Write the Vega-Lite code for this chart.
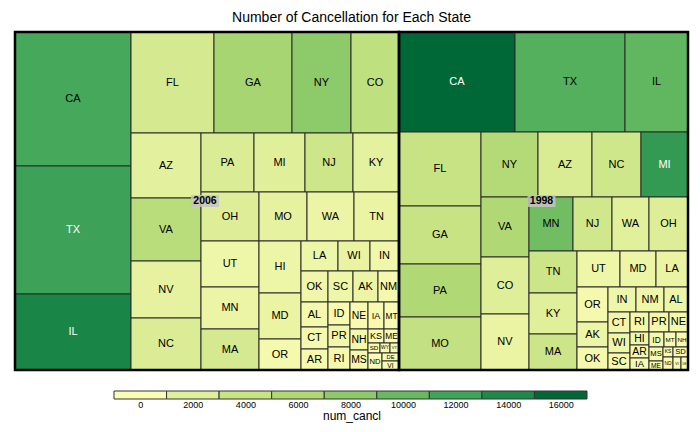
{
  "$schema": "https://vega.github.io/schema/vega-lite/v6.json",
  "padding": {"left": 13, "top": 10, "right": 10, "bottom": 5},
  "config": {"view": {"stroke": null}, "font": "Liberation Sans"},
  "title": {"text": "Number of Cancellation for Each State", "fontSize": 14, "fontWeight": "normal", "font": "Liberation Sans", "anchor": "middle", "offset": 6, "color": "black"},
  "datasets": {
    "cells": [
      {"year": "2006", "state": "CA", "num_cancl": 11700, "x0": 0, "x1": 116, "y0": 0, "y1": 134},
      {"year": "2006", "state": "TX", "num_cancl": 12200, "x0": 0, "x1": 116, "y0": 134, "y1": 262},
      {"year": "2006", "state": "IL", "num_cancl": 14300, "x0": 0, "x1": 116, "y0": 262, "y1": 338},
      {"year": "2006", "state": "FL", "num_cancl": 3000, "x0": 116, "x1": 199, "y0": 0, "y1": 101},
      {"year": "2006", "state": "GA", "num_cancl": 6500, "x0": 199, "x1": 277, "y0": 0, "y1": 101},
      {"year": "2006", "state": "NY", "num_cancl": 8000, "x0": 277, "x1": 336, "y0": 0, "y1": 101},
      {"year": "2006", "state": "CO", "num_cancl": 4800, "x0": 336, "x1": 384, "y0": 0, "y1": 101},
      {"year": "2006", "state": "AZ", "num_cancl": 1800, "x0": 116, "x1": 186, "y0": 101, "y1": 166},
      {"year": "2006", "state": "VA", "num_cancl": 5300, "x0": 116, "x1": 186, "y0": 166, "y1": 229},
      {"year": "2006", "state": "NV", "num_cancl": 1600, "x0": 116, "x1": 186, "y0": 229, "y1": 286},
      {"year": "2006", "state": "NC", "num_cancl": 2500, "x0": 116, "x1": 186, "y0": 286, "y1": 338},
      {"year": "2006", "state": "PA", "num_cancl": 2500, "x0": 186, "x1": 239, "y0": 101, "y1": 160},
      {"year": "2006", "state": "MI", "num_cancl": 2000, "x0": 239, "x1": 290, "y0": 101, "y1": 160},
      {"year": "2006", "state": "NJ", "num_cancl": 3600, "x0": 290, "x1": 338, "y0": 101, "y1": 160},
      {"year": "2006", "state": "KY", "num_cancl": 1700, "x0": 338, "x1": 384, "y0": 101, "y1": 160},
      {"year": "2006", "state": "OH", "num_cancl": 2200, "x0": 186, "x1": 244, "y0": 160, "y1": 209},
      {"year": "2006", "state": "UT", "num_cancl": 1000, "x0": 186, "x1": 244, "y0": 209, "y1": 255},
      {"year": "2006", "state": "MN", "num_cancl": 1200, "x0": 186, "x1": 244, "y0": 255, "y1": 297},
      {"year": "2006", "state": "MA", "num_cancl": 3000, "x0": 186, "x1": 244, "y0": 297, "y1": 338},
      {"year": "2006", "state": "MO", "num_cancl": 1500, "x0": 244, "x1": 292, "y0": 160, "y1": 209},
      {"year": "2006", "state": "WA", "num_cancl": 1200, "x0": 292, "x1": 339, "y0": 160, "y1": 209},
      {"year": "2006", "state": "TN", "num_cancl": 1300, "x0": 339, "x1": 384, "y0": 160, "y1": 209},
      {"year": "2006", "state": "HI", "num_cancl": 1100, "x0": 244, "x1": 286, "y0": 209, "y1": 261},
      {"year": "2006", "state": "MD", "num_cancl": 1300, "x0": 244, "x1": 286, "y0": 261, "y1": 307},
      {"year": "2006", "state": "OR", "num_cancl": 600, "x0": 244, "x1": 286, "y0": 307, "y1": 338},
      {"year": "2006", "state": "LA", "num_cancl": 1000, "x0": 286, "x1": 323, "y0": 209, "y1": 239},
      {"year": "2006", "state": "WI", "num_cancl": 1400, "x0": 323, "x1": 355, "y0": 209, "y1": 239},
      {"year": "2006", "state": "IN", "num_cancl": 800, "x0": 355, "x1": 384, "y0": 209, "y1": 239},
      {"year": "2006", "state": "OK", "num_cancl": 800, "x0": 286, "x1": 313, "y0": 239, "y1": 270},
      {"year": "2006", "state": "SC", "num_cancl": 1000, "x0": 313, "x1": 338, "y0": 239, "y1": 270},
      {"year": "2006", "state": "AK", "num_cancl": 1200, "x0": 338, "x1": 363, "y0": 239, "y1": 270},
      {"year": "2006", "state": "NM", "num_cancl": 500, "x0": 363, "x1": 384, "y0": 239, "y1": 270},
      {"year": "2006", "state": "AL", "num_cancl": 600, "x0": 286, "x1": 313, "y0": 270, "y1": 295},
      {"year": "2006", "state": "CT", "num_cancl": 600, "x0": 286, "x1": 313, "y0": 295, "y1": 317},
      {"year": "2006", "state": "AR", "num_cancl": 400, "x0": 286, "x1": 313, "y0": 317, "y1": 338},
      {"year": "2006", "state": "ID", "num_cancl": 400, "x0": 313, "x1": 335, "y0": 270, "y1": 293},
      {"year": "2006", "state": "PR", "num_cancl": 800, "x0": 313, "x1": 335, "y0": 293, "y1": 315},
      {"year": "2006", "state": "RI", "num_cancl": 500, "x0": 313, "x1": 335, "y0": 315, "y1": 338},
      {"year": "2006", "state": "NE", "num_cancl": 400, "x0": 335, "x1": 353, "y0": 270, "y1": 297},
      {"year": "2006", "state": "IA", "num_cancl": 400, "x0": 353, "x1": 369, "y0": 270, "y1": 297},
      {"year": "2006", "state": "MT", "num_cancl": 300, "x0": 369, "x1": 384, "y0": 270, "y1": 297},
      {"year": "2006", "state": "NH", "num_cancl": 500, "x0": 335, "x1": 353, "y0": 297, "y1": 318},
      {"year": "2006", "state": "MS", "num_cancl": 600, "x0": 335, "x1": 353, "y0": 318, "y1": 338},
      {"year": "2006", "state": "KS", "num_cancl": 300, "x0": 353, "x1": 369, "y0": 297, "y1": 311},
      {"year": "2006", "state": "ME", "num_cancl": 300, "x0": 369, "x1": 384, "y0": 297, "y1": 311},
      {"year": "2006", "state": "SD", "num_cancl": 200, "x0": 353, "x1": 365, "y0": 311, "y1": 321},
      {"year": "2006", "state": "WY", "num_cancl": 200, "x0": 365, "x1": 375, "y0": 311, "y1": 321},
      {"year": "2006", "state": "VT", "num_cancl": 200, "x0": 375, "x1": 384, "y0": 311, "y1": 321},
      {"year": "2006", "state": "ND", "num_cancl": 200, "x0": 353, "x1": 367, "y0": 321, "y1": 338},
      {"year": "2006", "state": "DE", "num_cancl": 200, "x0": 367, "x1": 384, "y0": 321, "y1": 329},
      {"year": "2006", "state": "VI", "num_cancl": 200, "x0": 367, "x1": 384, "y0": 329, "y1": 338},
      {"year": "1998", "state": "CA", "num_cancl": 16500, "x0": 384, "x1": 500, "y0": 0, "y1": 100},
      {"year": "1998", "state": "TX", "num_cancl": 11000, "x0": 500, "x1": 610, "y0": 0, "y1": 100},
      {"year": "1998", "state": "IL", "num_cancl": 10300, "x0": 610, "x1": 673, "y0": 0, "y1": 100},
      {"year": "1998", "state": "FL", "num_cancl": 4200, "x0": 384, "x1": 466, "y0": 100, "y1": 174},
      {"year": "1998", "state": "GA", "num_cancl": 4200, "x0": 384, "x1": 466, "y0": 174, "y1": 232},
      {"year": "1998", "state": "PA", "num_cancl": 6000, "x0": 384, "x1": 466, "y0": 232, "y1": 285},
      {"year": "1998", "state": "MO", "num_cancl": 4500, "x0": 384, "x1": 466, "y0": 285, "y1": 338},
      {"year": "1998", "state": "NY", "num_cancl": 5800, "x0": 466, "x1": 523, "y0": 100, "y1": 165},
      {"year": "1998", "state": "AZ", "num_cancl": 2600, "x0": 523, "x1": 577, "y0": 100, "y1": 165},
      {"year": "1998", "state": "NC", "num_cancl": 3500, "x0": 577, "x1": 626, "y0": 100, "y1": 165},
      {"year": "1998", "state": "MI", "num_cancl": 12800, "x0": 626, "x1": 673, "y0": 100, "y1": 165},
      {"year": "1998", "state": "VA", "num_cancl": 6000, "x0": 466, "x1": 514, "y0": 165, "y1": 225},
      {"year": "1998", "state": "CO", "num_cancl": 2100, "x0": 466, "x1": 514, "y0": 225, "y1": 282},
      {"year": "1998", "state": "NV", "num_cancl": 1300, "x0": 466, "x1": 514, "y0": 282, "y1": 338},
      {"year": "1998", "state": "MN", "num_cancl": 9500, "x0": 514, "x1": 558, "y0": 165, "y1": 219},
      {"year": "1998", "state": "NJ", "num_cancl": 3400, "x0": 558, "x1": 597, "y0": 165, "y1": 219},
      {"year": "1998", "state": "WA", "num_cancl": 1900, "x0": 597, "x1": 634, "y0": 165, "y1": 219},
      {"year": "1998", "state": "OH", "num_cancl": 2200, "x0": 634, "x1": 673, "y0": 165, "y1": 219},
      {"year": "1998", "state": "TN", "num_cancl": 3800, "x0": 514, "x1": 562, "y0": 219, "y1": 261},
      {"year": "1998", "state": "KY", "num_cancl": 2000, "x0": 514, "x1": 562, "y0": 261, "y1": 302},
      {"year": "1998", "state": "MA", "num_cancl": 3800, "x0": 514, "x1": 562, "y0": 302, "y1": 338},
      {"year": "1998", "state": "UT", "num_cancl": 1000, "x0": 562, "x1": 605, "y0": 219, "y1": 255},
      {"year": "1998", "state": "MD", "num_cancl": 1100, "x0": 605, "x1": 641, "y0": 219, "y1": 255},
      {"year": "1998", "state": "LA", "num_cancl": 1300, "x0": 641, "x1": 673, "y0": 219, "y1": 255},
      {"year": "1998", "state": "OR", "num_cancl": 600, "x0": 562, "x1": 593, "y0": 255, "y1": 290},
      {"year": "1998", "state": "AK", "num_cancl": 1100, "x0": 562, "x1": 593, "y0": 290, "y1": 315},
      {"year": "1998", "state": "OK", "num_cancl": 500, "x0": 562, "x1": 593, "y0": 315, "y1": 338},
      {"year": "1998", "state": "IN", "num_cancl": 1000, "x0": 593, "x1": 621, "y0": 255, "y1": 280},
      {"year": "1998", "state": "NM", "num_cancl": 900, "x0": 621, "x1": 649, "y0": 255, "y1": 280},
      {"year": "1998", "state": "AL", "num_cancl": 1100, "x0": 649, "x1": 673, "y0": 255, "y1": 280},
      {"year": "1998", "state": "CT", "num_cancl": 800, "x0": 593, "x1": 615, "y0": 280, "y1": 301},
      {"year": "1998", "state": "WI", "num_cancl": 1000, "x0": 593, "x1": 615, "y0": 301, "y1": 321},
      {"year": "1998", "state": "SC", "num_cancl": 600, "x0": 593, "x1": 615, "y0": 321, "y1": 338},
      {"year": "1998", "state": "RI", "num_cancl": 700, "x0": 615, "x1": 634, "y0": 280, "y1": 300},
      {"year": "1998", "state": "PR", "num_cancl": 700, "x0": 634, "x1": 654, "y0": 280, "y1": 300},
      {"year": "1998", "state": "NE", "num_cancl": 700, "x0": 654, "x1": 673, "y0": 280, "y1": 300},
      {"year": "1998", "state": "HI", "num_cancl": 800, "x0": 615, "x1": 634, "y0": 300, "y1": 313},
      {"year": "1998", "state": "AR", "num_cancl": 600, "x0": 615, "x1": 634, "y0": 313, "y1": 326},
      {"year": "1998", "state": "IA", "num_cancl": 400, "x0": 615, "x1": 634, "y0": 326, "y1": 338},
      {"year": "1998", "state": "ID", "num_cancl": 600, "x0": 634, "x1": 649, "y0": 300, "y1": 315},
      {"year": "1998", "state": "MT", "num_cancl": 300, "x0": 649, "x1": 661, "y0": 300, "y1": 315},
      {"year": "1998", "state": "NH", "num_cancl": 400, "x0": 661, "x1": 673, "y0": 300, "y1": 315},
      {"year": "1998", "state": "MS", "num_cancl": 400, "x0": 634, "x1": 648, "y0": 315, "y1": 329},
      {"year": "1998", "state": "ME", "num_cancl": 300, "x0": 634, "x1": 648, "y0": 329, "y1": 338},
      {"year": "1998", "state": "KS", "num_cancl": 300, "x0": 648, "x1": 658, "y0": 315, "y1": 325},
      {"year": "1998", "state": "SD", "num_cancl": 300, "x0": 658, "x1": 673, "y0": 315, "y1": 325},
      {"year": "1998", "state": "ND", "num_cancl": 200, "x0": 648, "x1": 658, "y0": 325, "y1": 338},
      {"year": "1998", "state": "VI", "num_cancl": 200, "x0": 658, "x1": 666, "y0": 325, "y1": 338},
      {"year": "1998", "state": "DE", "num_cancl": 200, "x0": 666, "x1": 673, "y0": 325, "y1": 338}
    ],
    "groups": [
      {"year": "2006", "x0": 0, "x1": 384, "y0": 0, "y1": 338},
      {"year": "1998", "x0": 384, "x1": 673, "y0": 0, "y1": 338}
    ],
    "bins": [
      {"num_cancl": 0, "lo": -1000, "hi": 1000},
      {"num_cancl": 2000, "lo": 1000, "hi": 3000},
      {"num_cancl": 4000, "lo": 3000, "hi": 5000},
      {"num_cancl": 6000, "lo": 5000, "hi": 7000},
      {"num_cancl": 8000, "lo": 7000, "hi": 9000},
      {"num_cancl": 10000, "lo": 9000, "hi": 11000},
      {"num_cancl": 12000, "lo": 11000, "hi": 13000},
      {"num_cancl": 14000, "lo": 13000, "hi": 15000},
      {"num_cancl": 16000, "lo": 15000, "hi": 17000}
    ]
  },
  "spacing": 18,
  "resolve": {"scale": {"x": "independent", "y": "independent", "color": "shared"}},
  "vconcat": [
    {
      "width": 673,
      "height": 338,
      "layer": [
        {
          "data": {"name": "cells"},
          "mark": {"type": "rect", "stroke": "#2a2a2a", "strokeWidth": 1},
          "encoding": {
            "x": {"field": "x0", "type": "quantitative", "scale": {"domain": [0, 673], "nice": false, "zero": false}, "axis": null},
            "x2": {"field": "x1"},
            "y": {"field": "y0", "type": "quantitative", "scale": {"domain": [0, 338], "nice": false, "zero": false, "reverse": true}, "axis": null},
            "y2": {"field": "y1"},
            "color": {"field": "num_cancl", "type": "quantitative", "legend": null,
              "scale": {"type": "linear", "clamp": true, "domain": [0, 2000, 4000, 6000, 8000, 10000, 12000, 14000, 16000],
                "range": ["#fcfdb5", "#e0ef9a", "#c9e486", "#b0d975", "#8dca6a", "#67ba60", "#40a55a", "#1d8a49", "#006837"]}}
          }
        },
        {
          "data": {"name": "cells"},
          "transform": [
            {"calculate": "(datum.x0 + datum.x1) / 2", "as": "cx"},
            {"calculate": "(datum.y0 + datum.y1) / 2", "as": "cy"},
            {"calculate": "min(11, (datum.x1 - datum.x0 - 3) / (0.72 * length(datum.state)), (datum.y1 - datum.y0 - 2) * 0.95)", "as": "fs"}
          ],
          "mark": {"type": "text", "font": "Liberation Sans", "align": "center", "baseline": "middle"},
          "encoding": {
            "x": {"field": "cx", "type": "quantitative"},
            "y": {"field": "cy", "type": "quantitative"},
            "text": {"field": "state"},
            "size": {"field": "fs", "type": "quantitative", "scale": null},
            "color": {"condition": {"test": "datum.num_cancl > 12000", "value": "white"}, "value": "black"}
          }
        },
        {
          "data": {"name": "groups"},
          "mark": {"type": "rect", "filled": false, "stroke": "black", "strokeWidth": 2.5},
          "encoding": {
            "x": {"field": "x0", "type": "quantitative"},
            "x2": {"field": "x1"},
            "y": {"field": "y0", "type": "quantitative"},
            "y2": {"field": "y1"}
          }
        },
        {
          "data": {"name": "groups"},
          "transform": [
            {"calculate": "(datum.x0 + datum.x1) / 2 - 2", "as": "cx"},
            {"calculate": "(datum.y0 + datum.y1) / 2", "as": "cy"}
          ],
          "mark": {"type": "point", "filled": true, "shape": "M-1,-0.43L1,-0.43L1,0.43L-1,0.43Z", "size": 784, "color": "#c4c4c4", "opacity": 0.85, "strokeWidth": 0},
          "encoding": {
            "x": {"field": "cx", "type": "quantitative"},
            "y": {"field": "cy", "type": "quantitative"}
          }
        },
        {
          "data": {"name": "groups"},
          "transform": [
            {"calculate": "(datum.x0 + datum.x1) / 2 - 2", "as": "cx"},
            {"calculate": "(datum.y0 + datum.y1) / 2", "as": "cy"}
          ],
          "mark": {"type": "text", "font": "Liberation Sans", "fontWeight": "bold", "fontSize": 10.5, "align": "center", "baseline": "middle", "color": "black"},
          "encoding": {
            "x": {"field": "cx", "type": "quantitative"},
            "y": {"field": "cy", "type": "quantitative"},
            "text": {"field": "year"}
          }
        }
      ]
    },
    {
      "width": 673,
      "height": 8,
      "data": {"name": "bins"},
      "mark": {"type": "rect", "stroke": "#333333", "strokeWidth": 1},
      "encoding": {
        "x": {"field": "lo", "type": "quantitative", "scale": {"domain": [-4767, 20843], "nice": false, "zero": false},
          "axis": {"values": [0, 2000, 4000, 6000, 8000, 10000, 12000, 14000, 16000], "format": "d", "title": "num_cancl", "ticks": false, "domain": false, "grid": false,
            "labelFontSize": 9, "labelFont": "Liberation Sans", "labelColor": "black", "labelPadding": 1,
            "titleFontSize": 12, "titleFont": "Liberation Sans", "titleFontWeight": "normal", "titleColor": "black", "titlePadding": 1}},
        "x2": {"field": "hi"},
        "color": {"field": "num_cancl", "type": "quantitative", "legend": null}
      }
    }
  ]
}
